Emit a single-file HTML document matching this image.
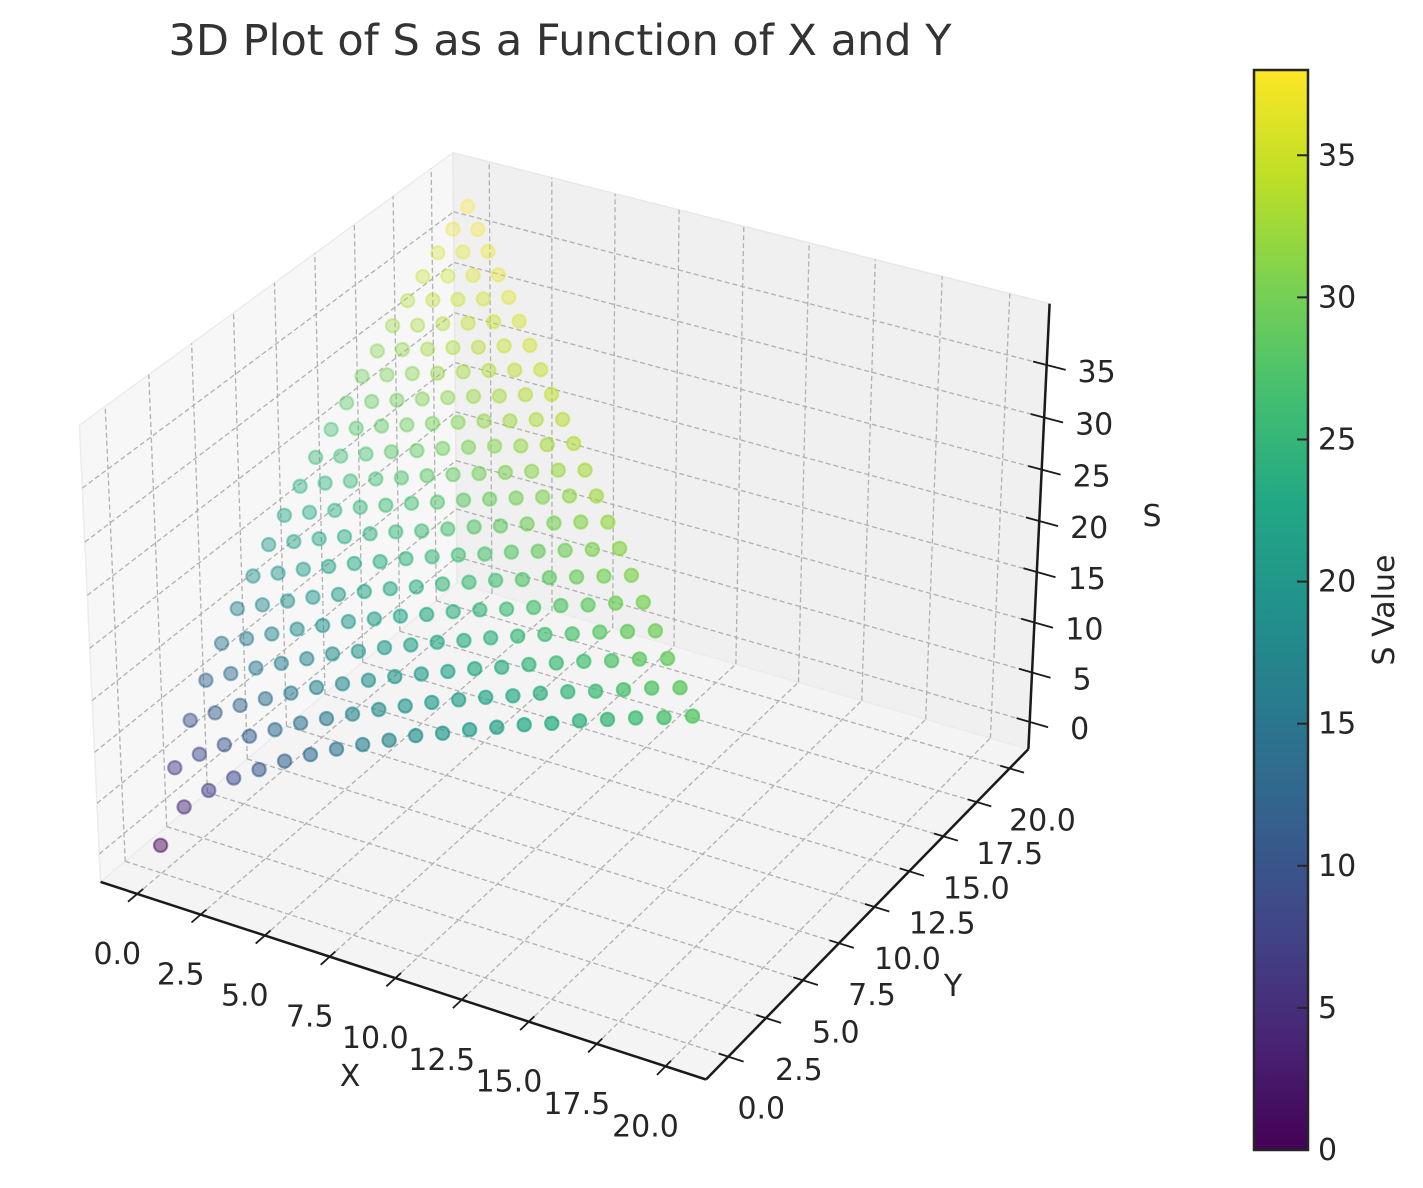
<!DOCTYPE html>
<html><head><meta charset="utf-8"><style>
html,body{margin:0;padding:0;background:#fff;}
svg{display:block;font-family:"DejaVu Sans","Liberation Sans",sans-serif;}
</style></head><body>
<svg id="chart" width="1423" height="1188" viewBox="0 0 1423 1188" xmlns="http://www.w3.org/2000/svg">
<defs>
<linearGradient id="vir" x1="0" y1="1" x2="0" y2="0">
<stop offset="0" stop-color="#440154"/><stop offset="0.1" stop-color="#482475"/><stop offset="0.2" stop-color="#414487"/><stop offset="0.3" stop-color="#355f8d"/><stop offset="0.4" stop-color="#2a788e"/><stop offset="0.5" stop-color="#21918c"/><stop offset="0.6" stop-color="#22a884"/><stop offset="0.7" stop-color="#44bf70"/><stop offset="0.8" stop-color="#7ad151"/><stop offset="0.9" stop-color="#bddf26"/><stop offset="1" stop-color="#fde725"/>
</linearGradient>
</defs>
<text x="560" y="55" font-size="43" text-anchor="middle" fill="#333">3D Plot of S as a Function of X and Y</text>
<g id="panes"></g>
<g id="grid"></g>
<g id="axes"></g>
<g id="pts"></g>
<g id="cbar">
<rect x="1254" y="70" width="54" height="1080" fill="url(#vir)" stroke="#262626" stroke-width="2.5"/>
</g>
<text x="350" y="1086" font-size="30" text-anchor="middle" fill="#262626">X</text>
<text x="953" y="996" font-size="30" text-anchor="middle" fill="#262626">Y</text>
<text x="1152" y="526" font-size="30" text-anchor="middle" fill="#262626">S</text>
<text transform="translate(1394,610) rotate(-90)" font-size="30" text-anchor="middle" fill="#262626">S Value</text>
</svg>
<script>
const xVals=[0,1,2,3,4,5,6,7,8,9,10,11,12,13,14,15,16,17,18,19,20];
const yVals=[0,1,2,3,4,5,6,7,8,9,10,11,12,13,14,15,16,17,18,19,20];
const sRows=[
[0,4.6,7.0,9.0,10.6,12.2,13.6,14.9,16.1,17.3,18.5,19.5,20.6,21.6,22.6,23.5,24.5,25.4,26.3,27.1,28.0],
[6.3,8.4,10.1,11.7,13.1,14.5,15.7,16.9,18.1,19.2,20.3,21.3,22.3,23.2,24.2,25.1,25.9,26.8,27.7,28.5],
[9.6,11.1,12.6,14.0,15.3,16.6,17.7,18.8,19.9,20.9,21.9,22.9,23.8,24.8,25.7,26.6,27.4,28.3,29.1],
[12.2,13.6,14.9,16.1,17.3,18.5,19.5,20.6,21.6,22.6,23.5,24.5,25.4,26.3,27.1,28.0,28.8,29.6],
[14.5,15.7,16.9,18.1,19.2,20.3,21.3,22.3,23.2,24.2,25.1,25.9,26.8,27.7,28.5,29.4,30.2],
[16.6,17.7,18.8,19.9,20.9,21.9,22.9,23.8,24.8,25.7,26.6,27.4,28.3,29.1,29.9,30.7],
[18.5,19.5,20.6,21.6,22.6,23.5,24.5,25.4,26.3,27.1,28.0,28.8,29.6,30.4,31.2],
[20.3,21.3,22.3,23.2,24.2,25.1,25.9,26.8,27.7,28.5,29.4,30.2,31.0,31.7],
[21.9,22.9,23.8,24.8,25.7,26.6,27.4,28.3,29.1,29.9,30.7,31.5,32.2],
[23.5,24.5,25.4,26.3,27.1,28.0,28.8,29.6,30.4,31.2,32.0,32.7],
[25.1,25.9,26.8,27.7,28.5,29.4,30.2,31.0,31.7,32.5,33.3],
[26.6,27.4,28.3,29.1,29.9,30.7,31.5,32.2,33.0,33.7],
[28.0,28.8,29.6,30.4,31.2,32.0,32.7,33.5,34.2],
[29.4,30.2,31.0,31.7,32.5,33.3,34.0,34.7],
[30.7,31.5,32.2,33.0,33.7,34.5,35.2],
[32.0,32.7,33.5,34.2,35.0,35.7],
[33.3,34.0,34.7,35.4,36.2],
[34.5,35.2,35.9,36.6],
[35.7,36.4,37.1],
[36.9,37.5],
[38.0]
];
const xTicks=[0,2.5,5,7.5,10,12.5,15,17.5,20];
const xTickLabels=["0.0","2.5","5.0","7.5","10.0","12.5","15.0","17.5","20.0"];
const yTicks=[0,2.5,5,7.5,10,12.5,15,17.5,20];
const yTickLabels=["0.0","2.5","5.0","7.5","10.0","12.5","15.0","17.5","20.0"];
const zTicks=[0,5,10,15,20,25,30,35];
const zTickLabels=["0","5","10","15","20","25","30","35"];
const cbTicks=[0,5,10,15,20,25,30,35];

const NS="http://www.w3.org/2000/svg";
function mk(tag,attrs,parent){const e=document.createElementNS(NS,tag);for(const k in attrs)e.setAttribute(k,attrs[k]);parent.appendChild(e);return e;}

let smin=Infinity,smax=-Infinity;
sRows.forEach(r=>r.forEach(v=>{smin=Math.min(smin,v);smax=Math.max(smax,v);}));
function lim(a,b){const m=(b-a)*0.05;return [a-m,b+m];}
const XL=lim(Math.min(...xVals),Math.max(...xVals));
const YL=lim(Math.min(...yVals),Math.max(...yVals));
const ZL=lim(smin,smax);
function bx(l){const d=(l[1]-l[0])/48;return [l[0]-d,l[1]+d];}
const BX=bx(XL),BY=bx(YL),BZ=bx(ZL);
const ASP=[1.1428,1.1428,0.8571];
function world(x,y,z){return [(x-XL[0])/(XL[1]-XL[0])*ASP[0],(y-YL[0])/(YL[1]-YL[0])*ASP[1],(z-ZL[0])/(ZL[1]-ZL[0])*ASP[2]];}
const el=30*Math.PI/180,az=-60*Math.PI/180,dist=10;
const R=[ASP[0]/2,ASP[1]/2,ASP[2]/2];
const E=[R[0]+dist*Math.cos(el)*Math.cos(az),R[1]+dist*Math.cos(el)*Math.sin(az),R[2]+dist*Math.sin(el)];
function sub(a,b){return [a[0]-b[0],a[1]-b[1],a[2]-b[2]];}
function dot(a,b){return a[0]*b[0]+a[1]*b[1]+a[2]*b[2];}
function cross(a,b){return [a[1]*b[2]-a[2]*b[1],a[2]*b[0]-a[0]*b[2],a[0]*b[1]-a[1]*b[0]];}
function nrm(a){const l=Math.hypot(...a);return [a[0]/l,a[1]/l,a[2]/l];}
const W=nrm(sub(E,R)),U=nrm(cross([0,0,1],W)),V=cross(W,U);
function cam(x,y,z){const d=sub(world(x,y,z),E);const cw=dot(W,d);return [dot(U,d)/-cw,dot(V,d)/-cw,-cw];}
const cal=[[BX[0],BY[0],BZ[0],100,882],[BX[1],BY[0],BZ[0],706,1079],[BX[1],BY[1],BZ[0],1029,750],[BX[0],BY[0],BZ[1],80,425],[BX[0],BY[1],BZ[1],453,153],[BX[1],BY[1],BZ[1],1049,303]];
function solve3(M,b){const det=m=>m[0][0]*(m[1][1]*m[2][2]-m[1][2]*m[2][1])-m[0][1]*(m[1][0]*m[2][2]-m[1][2]*m[2][0])+m[0][2]*(m[1][0]*m[2][1]-m[1][1]*m[2][0]);const D=det(M);const r=[];for(let c=0;c<3;c++){const m=M.map((row,i)=>row.map((v,j)=>j===c?b[i]:v));r.push(det(m)/D);}return r;}
const A=[[0,0,0],[0,0,0],[0,0,0]],bxv=[0,0,0],byv=[0,0,0];
cal.forEach(c=>{const s=cam(c[0],c[1],c[2]);const f=[s[0],s[1],1];for(let i=0;i<3;i++){for(let j=0;j<3;j++)A[i][j]+=f[i]*f[j];bxv[i]+=f[i]*c[3];byv[i]+=f[i]*c[4];}});
const CX=solve3(A,bxv),CY=solve3(A,byv);
function P(x,y,z){const s=cam(x,y,z);return [CX[0]*s[0]+CX[1]*s[1]+CX[2],CY[0]*s[0]+CY[1]*s[1]+CY[2],s[2]];}
function pts(arr){return arr.map(p=>{const q=P(p[0],p[1],p[2]);return q[0].toFixed(1)+","+q[1].toFixed(1);}).join(" ");}

const gP=document.getElementById("panes");
let e;
e=mk("polygon",{points:pts([[BX[0],BY[0],BZ[0]],[BX[0],BY[1],BZ[0]],[BX[0],BY[1],BZ[1]],[BX[0],BY[0],BZ[1]]]),fill:"#f7f7f7",stroke:"#ececec","stroke-width":1.5},gP);


e=mk("polygon",{points:pts([[BX[0],BY[1],BZ[0]],[BX[1],BY[1],BZ[0]],[BX[1],BY[1],BZ[1]],[BX[0],BY[1],BZ[1]]]),fill:"#f0f0f0",stroke:"#e8e8e8","stroke-width":1.5},gP);


e=mk("polygon",{points:pts([[BX[0],BY[0],BZ[0]],[BX[1],BY[0],BZ[0]],[BX[1],BY[1],BZ[0]],[BX[0],BY[1],BZ[0]]]),fill:"#f4f4f4",stroke:"#ececec","stroke-width":1.5},gP);



const gG=document.getElementById("grid");
function gl(a,b,name){const l=mk("polyline",{points:pts([a,b]),fill:"none",stroke:"#b0b0b0","stroke-width":1.3,"stroke-dasharray":"5,3"},gG);

}
xTicks.forEach(x=>{gl([x,BY[0],BZ[0]],[x,BY[1],BZ[0]],'x-gridline-floor');gl([x,BY[1],BZ[0]],[x,BY[1],BZ[1]],'x-gridline-back');});
yTicks.forEach(y=>{gl([BX[0],y,BZ[0]],[BX[1],y,BZ[0]],'y-gridline-floor');gl([BX[0],y,BZ[0]],[BX[0],y,BZ[1]],'y-gridline-left');});
zTicks.forEach(z=>{gl([BX[0],BY[0],z],[BX[0],BY[1],z],'z-gridline-left');gl([BX[0],BY[1],z],[BX[1],BY[1],z],'z-gridline-back');});

const gA=document.getElementById("axes");
function ax(a,b,name,w){const l=mk("polyline",{points:pts([a,b]),fill:"none",stroke:"#1a1a1a","stroke-width":w},gA);

}
ax([BX[0],BY[0],BZ[0]],[BX[1],BY[0],BZ[0]],'x-axis-line',2.5);
ax([BX[1],BY[0],BZ[0]],[BX[1],BY[1],BZ[0]],'y-axis-line',2.5);
ax([BX[1],BY[1],BZ[0]],[BX[1],BY[1],BZ[1]],'z-axis-line',2.5);
function lbl(x,y,txt,name){const t=mk("text",{x:x.toFixed(1),y:(y+10).toFixed(1),"font-size":30,"text-anchor":"middle",fill:"#262626"},gA);t.textContent=txt;

}
xTicks.forEach((x,i)=>{ax([x,BY[0]+0.35,BZ[0]],[x,BY[0]-0.55,BZ[0]],'x-tick',1.8);const p=P(x,BY[0],BZ[0]);lbl(p[0]-20,p[1]+60,xTickLabels[i],'x-tick-label');});
yTicks.forEach((y,i)=>{ax([BX[1]-0.35,y,BZ[0]],[BX[1]+0.55,y,BZ[0]],'y-tick',1.8);const p=P(BX[1],y,BZ[0]);lbl(p[0]+33,p[1]+52,yTickLabels[i],'y-tick-label');});
zTicks.forEach((z,i)=>{ax([BX[1]-0.5,BY[1],z],[BX[1]+0.7,BY[1],z],'z-tick',1.8);const p=P(BX[1],BY[1],z);lbl(p[0]+50,p[1]+7,zTickLabels[i],'z-tick-label');});

const VIR=[[68,1,84],[72,36,117],[65,68,135],[53,95,141],[42,120,142],[33,145,140],[34,168,132],[68,191,112],[122,209,81],[189,223,38],[253,231,37]];
function vir(t){t=Math.max(0,Math.min(1,t))*10;const i=Math.min(9,Math.floor(t)),f=t-i;const a=VIR[i],b=VIR[i+1];return "rgb("+[0,1,2].map(k=>Math.round(a[k]+(b[k]-a[k])*f)).join(",")+")";}

const gS=document.getElementById("pts");
const list=[];
yVals.forEach((y,j)=>{sRows[j].forEach((s,i)=>{const p=P(xVals[i],y,s);list.push({p,s});});});
const dmin=Math.min(...list.map(o=>o.p[2])),dmax=Math.max(...list.map(o=>o.p[2]));
list.sort((a,b)=>b.p[2]-a.p[2]);
list.forEach(o=>{const sh=1-0.6*(o.p[2]-dmin)/(dmax-dmin);const c=vir(o.s/smax);
const d=mk("circle",{cx:o.p[0].toFixed(1),cy:o.p[1].toFixed(1),r:6.6,fill:c,"fill-opacity":(0.78*sh).toFixed(3),stroke:c,"stroke-opacity":(0.8*sh).toFixed(3),"stroke-width":2.2},gS);

});

const gC=document.getElementById("cbar");
cbTicks.forEach(v=>{const y=1150-(v/smax)*1080;
const t=mk("line",{x1:1297,x2:1308,y1:y,y2:y,stroke:"#262626","stroke-width":2},gC);


const l=mk("text",{x:1318,y:y+10,"font-size":30,fill:"#262626"},gC);l.textContent=String(v);

});
</script>
</body></html>
